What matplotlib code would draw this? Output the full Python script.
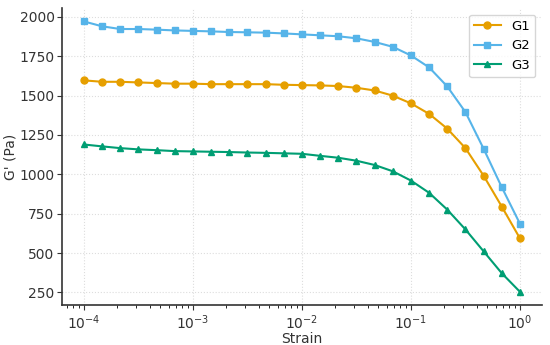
import matplotlib
matplotlib.use("Agg")
import matplotlib.pyplot as plt

# strain sweep (6 points per decade)
strain = [1.0e-4, 1.47e-4, 2.15e-4, 3.16e-4, 4.64e-4, 6.81e-4,
          1.0e-3, 1.47e-3, 2.15e-3, 3.16e-3, 4.64e-3, 6.81e-3,
          1.0e-2, 1.47e-2, 2.15e-2, 3.16e-2, 4.64e-2, 6.81e-2,
          1.0e-1, 1.47e-1, 2.15e-1, 3.16e-1, 4.64e-1, 6.81e-1,
          1.0]

g1 = [1596, 1587, 1587, 1583, 1579, 1575, 1575, 1572, 1572, 1572, 1572, 1568, 1566,
      1564, 1560, 1549, 1532, 1499, 1450, 1383, 1290, 1166, 991, 795, 593]
g2 = [1970, 1939, 1922, 1922, 1918, 1913, 1910, 1907, 1903, 1901, 1899, 1894, 1888,
      1882, 1876, 1863, 1840, 1809, 1754, 1678, 1558, 1395, 1162, 918, 686]
g3 = [1189, 1177, 1166, 1158, 1153, 1147, 1145, 1143, 1141, 1138, 1136, 1133, 1130,
      1117, 1105, 1086, 1059, 1019, 960, 882, 776, 650, 511, 372, 254]

series = [("G1", g1, "#E69F00", "o"),
          ("G2", g2, "#56B4E9", "s"),
          ("G3", g3, "#009E73", "^")]

fig, ax = plt.subplots(figsize=(5.5, 3.45), dpi=100)

for name, vals, col, mk in series:
    ax.plot(strain, vals, color=col, marker=mk, markersize=5, linewidth=1.5, label=name)

ax.set_xscale("log")
ax.set_xlabel("Strain", fontsize=10, labelpad=0, color="#333333")
ax.set_ylabel("G' (Pa)", fontsize=10, labelpad=1, color="#333333")
ax.tick_params(labelsize=10, colors="#333333", pad=2)
ax.grid(True, linestyle=":", color="#dddddd", linewidth=0.8)
ax.spines["top"].set_visible(False)
ax.spines["right"].set_visible(False)
for s in ("left", "bottom"):
    ax.spines[s].set_color("#333333")
    ax.spines[s].set_linewidth(1.2)

ax.legend(loc="upper right", fontsize=9.5)

fig.subplots_adjust(left=0.113, right=0.985, bottom=0.115, top=0.977)
fig.savefig("out.png")
